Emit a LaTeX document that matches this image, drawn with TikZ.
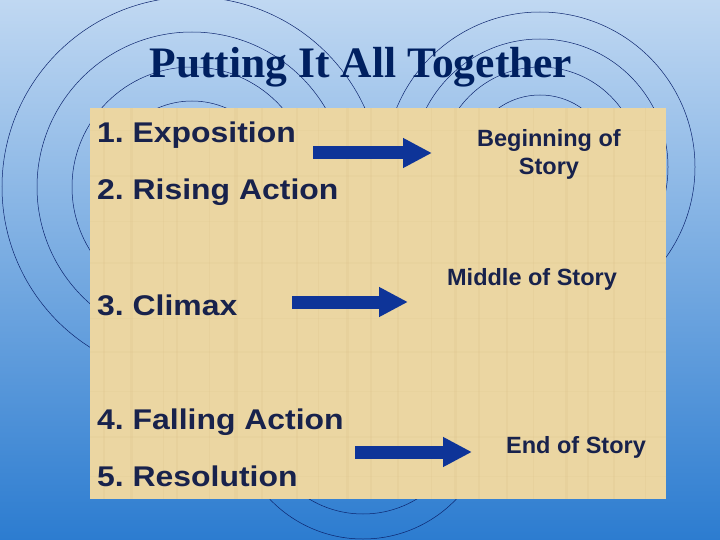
\documentclass[tikz,border=0pt]{standalone}
\usepackage{fontspec}
\usepackage{tikz}
\usetikzlibrary{arrows.meta, positioning}
\newfontfamily\titlefont{Liberation Serif}
\newfontfamily\listfont{Liberation Sans}[FakeStretch=1.12]
\newfontfamily\labelfont{Liberation Sans}
\definecolor{bgtop}{RGB}{192,216,242}
\definecolor{bgbot}{RGB}{44,124,208}
\definecolor{ripplecol}{RGB}{12,36,110}
\definecolor{papyrus}{RGB}{235,214,162}
\definecolor{fibre}{RGB}{200,170,110}
\definecolor{titlenavy}{RGB}{0,32,96}
\definecolor{textnavy}{RGB}{24,34,76}
\definecolor{arrowblue}{RGB}{14,52,152}

\begin{document}
\begin{tikzpicture}[
    x=1pt, y=-1pt,
    ripple/.style={draw=ripplecol, line width=0.5pt},
    title/.style={anchor=base, text=titlenavy, inner sep=0, font=\titlefont\bfseries\fontsize{43.5}{48}\selectfont},
    item/.style={anchor=base west, text=textnavy, inner sep=0, font=\listfont\bfseries\frenchspacing\fontsize{28.5}{32}\selectfont},
    lbl/.style={anchor=base, align=center, text=textnavy, inner sep=0, font=\labelfont\bfseries\fontsize{23.5}{28}\selectfont},
    blockarrow/.style={line width=13pt, draw=arrowblue, -{Triangle[length=29pt,width=28pt]}}
]
    \useasboundingbox (0,0) rectangle (720,540);
    \shade[top color=bgtop, bottom color=bgbot] (0,0) rectangle (720,540);

    % ripples behind the papyrus
    \foreach \r in {190,155,120,86} \draw[ripple] (192,187) circle[radius=\r];
    \foreach \r in {155,128,100,72} \draw[ripple] (540,167) circle[radius=\r];
    \foreach \r in {129,104,78} \draw[ripple] (363,410) circle[radius=\r];

    % papyrus sheet with a few fibres
    \fill[papyrus] (90,108) rectangle (666,499);
    \foreach \x/\w in {104/1.5,131/3,163/1,177/2.5,209/1,236/3.5,262/1.5,297/2,318/1,347/3,371/1.5,398/2,431/1,455/3,479/1.5,507/2.5,533/1,566/3,588/1.5,614/2,645/1}
        \draw[fibre, opacity=0.10, line width=\w pt] (\x,108) -- (\x,499);
    \foreach \y/\w in {131/1,176/2,222/1,263/2.5,318/1,352/2,391/1,437/2,476/1}
        \draw[fibre, opacity=0.06, line width=\w pt] (90,\y) -- (666,\y);

    \node[title] (head) at (361,78) {Putting It All Together};

    \node[item] (expo)  at (97,143) {1. Exposition};
    \node[item] (rise)  at (97,200) {2. Rising Action};
    \node[item] (climx) at (97,315) {3. Climax};
    \node[item] (fall)  at (97,429) {4. Falling Action};
    \node[item] (resol) at (97,486) {5. Resolution};

    \node[lbl] (begin) at (549,175) {Beginning of\\Story};
    \node[lbl] (middle) at (532,285) {Middle of Story};
    \node[lbl] (ending) at (576,453) {End of Story};

    \coordinate (a1s) at (313,153);
    \coordinate (a1e) at (432,153);
    \coordinate (a2s) at (292,302);
    \coordinate (a2e) at (408,302);
    \coordinate (a3s) at (355,452);
    \coordinate (a3e) at (472,452);

    \draw[blockarrow] (a1s) -- (a1e);
    \draw[blockarrow] (a2s) -- (a2e);
    \draw[blockarrow] (a3s) -- (a3e);
\end{tikzpicture}
\end{document}
